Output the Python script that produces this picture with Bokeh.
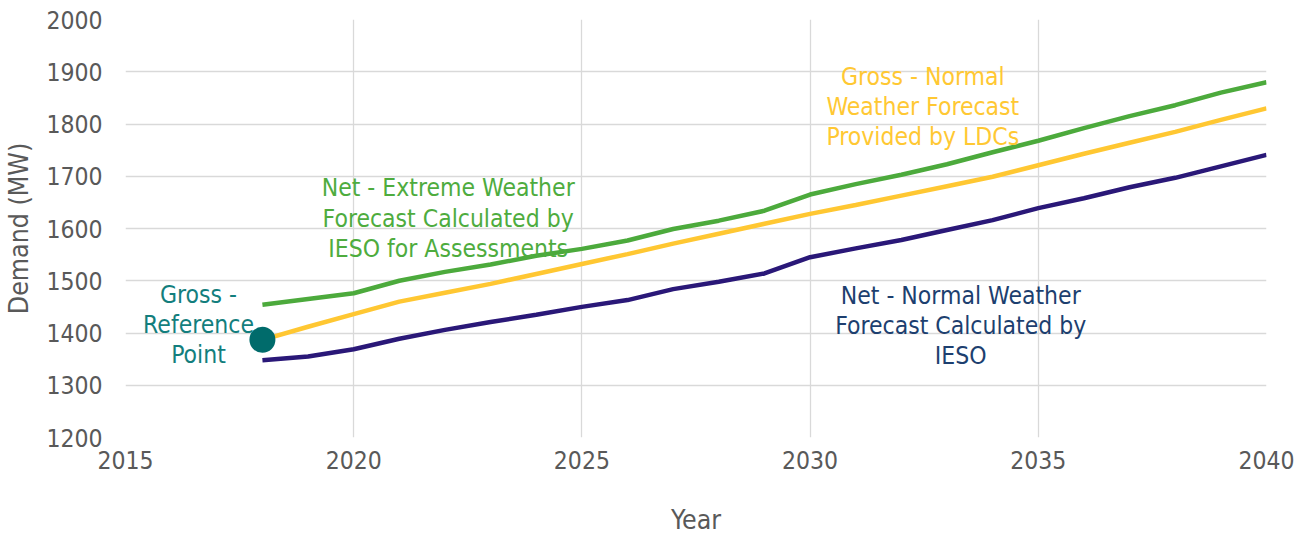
from bokeh.plotting import figure
from bokeh.models import FixedTicker, Label, Range1d
from bokeh.embed import file_html
from bokeh.resources import INLINE

# Peak demand forecasts (MW), 2018-2040
years = list(range(2018, 2041))
net_extreme = [1454, 1465, 1476, 1500, 1517, 1531, 1548, 1561, 1577, 1599, 1615, 1634,
               1665, 1685, 1703, 1723, 1746, 1768, 1792, 1815, 1836, 1860, 1880]
gross_normal = [1387, 1412, 1436, 1460, 1477, 1494, 1513, 1532, 1551, 1571, 1590, 1609,
                1628, 1645, 1663, 1681, 1699, 1721, 1743, 1764, 1785, 1808, 1830]
net_normal = [1348, 1355, 1369, 1389, 1406, 1421, 1435, 1450, 1463, 1484, 1498, 1514,
              1545, 1562, 1578, 1597, 1616, 1639, 1658, 1679, 1697, 1719, 1741]
ref_year = [2018]
ref_demand = [1387]

x_ticks = [2015, 2020, 2025, 2030, 2035, 2040]
y_ticks = [1200, 1300, 1400, 1500, 1600, 1700, 1800, 1900, 2000]

FONT = "DejaVu Sans Condensed"
GREY = "#595959"
GRID = "#D9D9D9"

p = figure(width=1307, height=537, output_backend="svg", toolbar_location=None,
           x_range=Range1d(2015, 2040), y_range=Range1d(1200, 2000),
           min_border_left=121, min_border_right=41, min_border_top=19,
           min_border_bottom=99)
p.outline_line_color = None
p.background_fill_color = "white"
p.border_fill_color = "white"

for ax in (p.xaxis[0], p.yaxis[0]):
    ax.major_tick_line_color = None
    ax.minor_tick_line_color = None
    ax.axis_line_color = None
    ax.major_label_text_font = FONT
    ax.major_label_text_font_size = "24.5px"
    ax.major_label_text_color = GREY
    ax.axis_label_text_font = FONT
    ax.axis_label_text_font_size = "26.5px"
    ax.axis_label_text_font_style = "normal"
    ax.axis_label_text_color = GREY

p.xaxis.ticker = FixedTicker(ticks=x_ticks)
p.yaxis.ticker = FixedTicker(ticks=y_ticks)
p.xaxis.axis_label = "Year"
p.yaxis.axis_label = "Demand (MW)"
p.xaxis.major_label_standoff = 7
p.yaxis.major_label_standoff = 17
p.xaxis.axis_label_standoff = 32
p.yaxis.axis_label_standoff = 9

p.xgrid.ticker = FixedTicker(ticks=x_ticks)
p.ygrid.ticker = FixedTicker(ticks=y_ticks)
p.grid.grid_line_color = GRID
p.grid.grid_line_width = 1.3

p.line(years, net_extreme, line_color="#4CAA3C", line_width=4.5)
p.line(years, gross_normal, line_color="#FFC732", line_width=4.5)
p.line(years, net_normal, line_color="#2A1878", line_width=4.5)
p.scatter(ref_year, ref_demand, size=26, fill_color="#006B6B", line_color=None)

labels = [
    ("Net - Extreme Weather\nForecast Calculated by\nIESO for Assessments",
     2022.07, 1620, "#4EAC3E"),
    ("Gross - Normal\nWeather Forecast\nProvided by LDCs", 2032.47, 1834, "#FFC833"),
    ("Net - Normal Weather\nForecast Calculated by\nIESO", 2033.3, 1414, "#1D3F6F"),
    ("Gross -\nReference\nPoint", 2016.6, 1416, "#137E7D"),
]
for txt, lx, ly, col in labels:
    p.add_layout(Label(x=lx, y=ly, text=txt, text_align="center", text_baseline="middle",
                       text_font=FONT, text_font_size="24.5px", text_color=col,
                       text_line_height=1.04))

open("out.html", "w").write(file_html(p, INLINE))
